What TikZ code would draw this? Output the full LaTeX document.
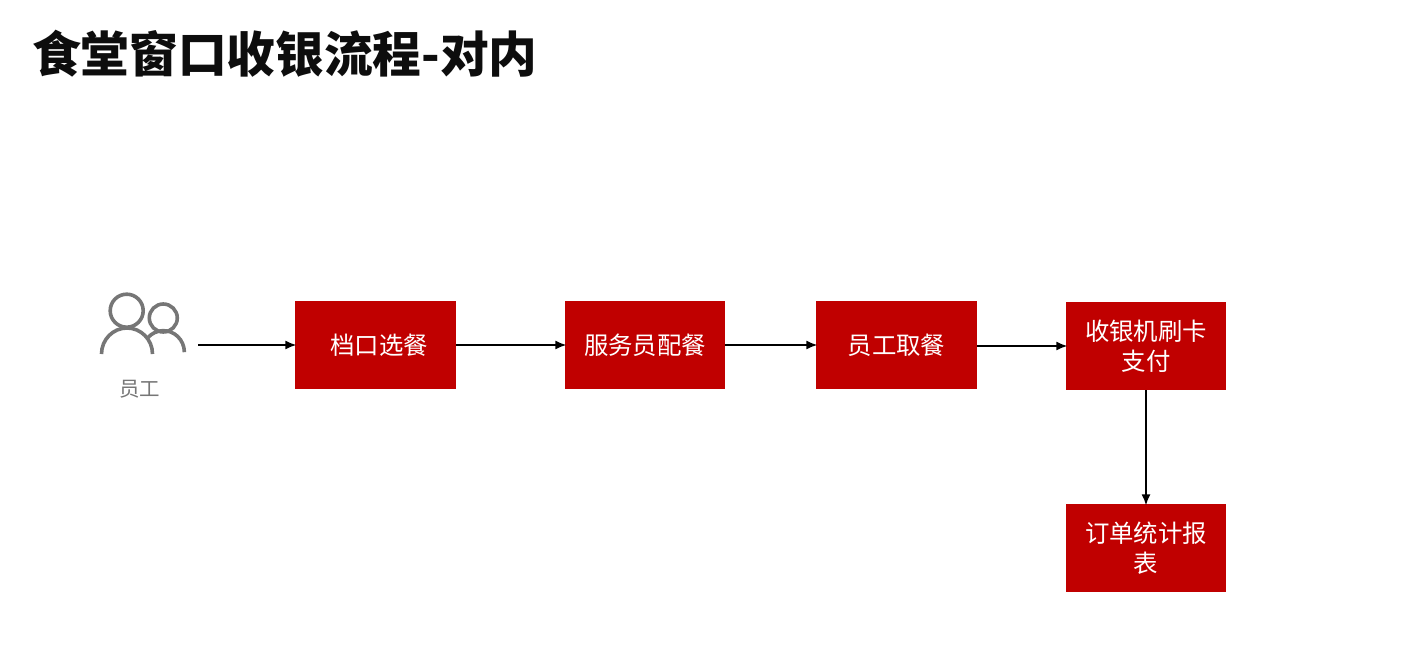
\documentclass[tikz,border=0pt]{standalone}
\usepackage{fontspec}
\setmainfont{Noto Sans CJK SC}
\usetikzlibrary{arrows.meta,positioning}
\definecolor{boxred}{HTML}{C00000}
\definecolor{persongray}{HTML}{767676}
\begin{document}
\begin{tikzpicture}[x=1pt,y=-1pt,align=center]
\tikzstyle{stepbox}=[fill=boxred,text=white,inner sep=0pt,minimum height=88pt,font=\fontsize{24.4}{29.5}\selectfont]
\tikzstyle{flow}=[-{Latex[length=11pt,width=9pt]},line width=1.4pt,black,shorten >=-1.5pt]
\tikzstyle{icon}=[persongray,line width=3.6pt]
\useasboundingbox (0,0) rectangle (1416,650);

\node[anchor=west,font=\fontsize{48.7}{50}\selectfont\bfseries,text=black!95] (title) at (28.5,54) {食堂窗口收银流程-对内};

% person icon
\draw[icon] (126.7,310.7) circle (16.5);
\draw[icon] (163.3,318) circle (14);
\draw[icon] (101.5,354) arc[start angle=180,end angle=360,x radius=25.5,y radius=26];
\draw[icon] (148,337.5) arc[start angle=223,end angle=360,x radius=21,y radius=21.5];
\node[text=persongray,font=\fontsize{20.5}{24}\selectfont] (staff) at (139.5,389) {员工};
\coordinate (start) at (198,345);

\node[stepbox,minimum width=161pt] (pick) at (375.5,345) {\hspace{7pt}档口选餐};
\node[stepbox,minimum width=160pt] (serve) at (645,345) {服务员配餐};
\node[stepbox,minimum width=161pt] (take) at (896.5,345) {员工取餐};
\node[stepbox,minimum width=160pt] (pay) at (1146,346) {收银机刷卡\\支付};
\node[stepbox,minimum width=160pt] (report) at (1146,548) {订单统计报\\表};

\draw[flow] (start) -- (pick);
\draw[flow] (pick) -- (serve);
\draw[flow] (serve) -- (take);
\draw[flow] (take.east |- pay) -- (pay);
\draw[flow] (pay) -- (report);
\end{tikzpicture}
\end{document}
